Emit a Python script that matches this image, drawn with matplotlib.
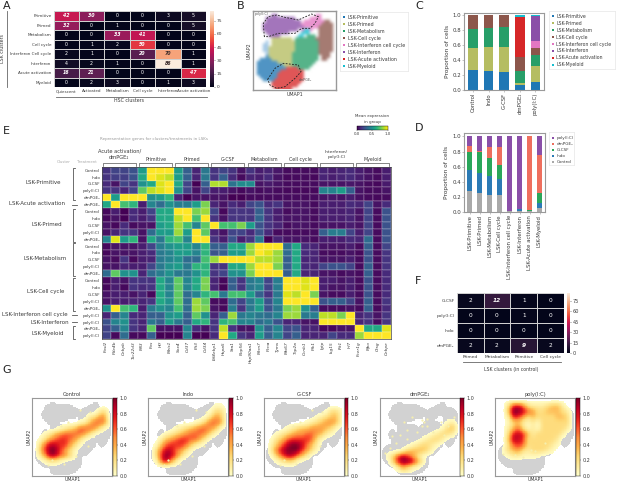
import numpy as np
import matplotlib
matplotlib.use("Agg")
import matplotlib.pyplot as plt
from matplotlib.lines import Line2D
from matplotlib.colors import ListedColormap, to_rgb
import seaborn as sns

W, H = 617, 482
plt.rcParams['font.family'] = ['DejaVu Sans']
fig = plt.figure(figsize=(W/100, H/100), dpi=100, facecolor='white')
TXT = '#3a3a3a'; SP = '#9a9a9a'

# ---------- data ----------
hsc_clusters = ['Quiescent', 'Activated', 'Metabolism', 'Cell cycle', 'Interferon', 'Acute activation']
lsk_rows_a = ['Primitive', 'Primed', 'Metabolism', 'Cell cycle', 'Interferon Cell cycle', 'Interferon', 'Acute activation', 'Myeloid']
overlap_a = [[42, 30, 0, 0, 3, 5],
             [32, 0, 1, 0, 0, 5],
             [0, 0, 33, 41, 0, 0],
             [0, 1, 2, 50, 0, 0],
             [2, 1, 0, 20, 70, 1],
             [4, 2, 1, 0, 86, 1],
             [16, 21, 0, 0, 0, 47],
             [0, 2, 3, 0, 1, 3]]

f_rows = ['G-CSF', 'poly(I:C)', 'Indo', 'dmPGE₂']
f_cols = ['Primed', 'Metabolism', 'Primitive', 'Cell cycle']
overlap_f = [[2, 12, 1, 0], [0, 0, 1, 0], [0, 0, 0, 0], [2, 2, 9, 2]]

lsk_names = ['LSK-Primitive', 'LSK-Primed', 'LSK-Metabolism', 'LSK-Cell cycle',
             'LSK-Interferon cell cycle', 'LSK-Interferon', 'LSK-Acute activation', 'LSK-Myeloid']
lsk_colors = ['#1f77b4', '#b5bd61', '#279e68', '#8c564b', '#e377c2', '#8a4fa8', '#d62728', '#17becf']

c_treatments = ['Control', 'Indo', 'G-CSF', 'dmPGE₂', 'poly(I:C)']
c_primitive = [.27, .26, .24, .07, .11]
c_primed = [.29, .31, .33, .02, .21]
c_metabolism = [.26, .26, .27, .16, .15]
c_cellcycle = [.18, .17, .16, .19, .09]
c_ifn_cc = [0, 0, 0, 0, .09]
c_ifn = [0, 0, 0, 0, .34]
c_acute = [0, 0, 0, .53, 0]
c_myeloid = [0, 0, 0, .03, .01]

d_control = [.28, .25, .23, .22, .01, .01, .01, .05]
d_indo = [.27, .27, .24, .21, 0, .03, 0, .07]
d_gcsf = [.25, .28, .24, .19, 0, 0, .02, .13]
d_dmpge = [.07, .01, .15, .24, 0, 0, .97, .51]
d_poly = [.13, .19, .14, .14, .99, .96, 0, .24]
d_names = ['poly(I:C)', 'dmPGE₂', 'G-CSF', 'Indo', 'Control']
d_colors = ['#8a4fa8', '#ee6f5e', '#2aa65a', '#2b7ab5', '#a9a9a9']

genes = ['Fosl2', 'Pde4b', 'Cebpb', 'Tsc22d3', 'Mll3', 'Fos', 'Hlf', 'Meis1',
         'Sox4', 'Cd37', 'Flt3', 'Cd34', 'Eif4ebp1', 'Hspa5', 'Sra1', 'Nop56',
         'Hsp90aa1', 'Mcm7', 'Pcna', 'Tyms', 'Mki67', 'Top2a', 'Ccnb1', 'Plk1',
         'Igtp', 'Isg15', 'Ifit1', 'Irf7', 'Fcer1g', 'Mpo', 'Ctsg', 'Cebpe']
gene_groups = ['Acute activation/\ndmPGE₂', 'Primitive', 'Primed', 'G-CSF', 'Metabolism', 'Cell cycle', 'Interferon/\npoly(I:C)', 'Myeloid']
treat_rows = ['Control', 'Indo', 'G-CSF', 'poly(I:C)', 'dmPGE₂', 'dmPGE₂',
              'Control', 'Indo', 'G-CSF', 'poly(I:C)', 'dmPGE₂',
              'Control', 'Indo', 'G-CSF', 'poly(I:C)', 'dmPGE₂',
              'Control', 'Indo', 'G-CSF', 'poly(I:C)', 'dmPGE₂',
              'poly(I:C)', 'poly(I:C)', 'dmPGE₂', 'poly(I:C)']
expr = [
 [.15,.2,.2,.25, .55,1,1,1, .55,.3,.1,.4, .15,.2,.15,.05, .15,.08,.1,.06, .03,.03,.03,.03, .1,.08,.1,.12, .08,.05,.03,.08],
 [.15,.18,.18,.25, .6,1,.95,.9, .55,.3,.1,.4, .15,.3,.12,.03, .1,.08,.12,.05, .02,.03,.03,.02, .1,.08,.1,.12, .08,.05,.03,.08],
 [.12,.05,.2,.15, .5,.6,.95,1, .6,.2,0,.3, .88,.88,.38,.48, .48,.05,.07,.05, .03,.03,.03,.03, .05,.05,.05,.06, .05,.03,.02,.07],
 [.15,.15,.1,.2, .75,.9,.95,1, .5,.2,.05,.2, .08,.08,.05,.02, .05,.03,.04,.03, .02,.02,.02,.02, .45,.45,.55,.3, .05,.03,.03,.05],
 [1,.55,1,1, 1,.5,.55,.65, .1,0,.05,.05, .05,.05,0,0, .03,.03,.03,.03, .03,.03,.03,.03, .05,.06,.05,.08, .04,.03,.02,.03],
 [.6,1,.7,.65, .08,.45,.35,.5, .42,.42,.55,.8, .1,.05,.12,.08, .2,.25,.12,.15, .05,.05,.05,.03, .08,.08,.08,.12, .1,.2,.05,.12],
 [.02,.08,0,.12, .08,.2,.6,.6, 1,1,.8,.85, .2,.02,.15,.15, .15,.3,.15,.08, .03,.05,.05,.03, .08,.08,.08,.1, .05,.2,.03,.25],
 [.02,.05,0,.12, .08,.15,.6,.6, .9,1,.7,1, .15,.05,.15,.15, .15,.32,.15,.08, .05,.05,.05,.03, .08,.08,.08,.1, .05,.2,.03,.25],
 [.05,.02,.12,.03, .05,.05,.55,.6, .85,.7,.45,.75, 1,.7,.7,.8, .55,.25,.15,.1, .03,.05,.05,.03, .05,.05,.05,.08, .05,.2,.03,.25],
 [.05,.1,.15,.15, .05,.35,.55,.55, .85,.55,1,.75, .1,.05,.2,.2, .12,.25,.12,.03, .03,.03,.03,.03, .3,.42,.42,.2, .08,.2,.03,.25],
 [.45,.95,.55,.65, .05,.6,.4,.65, .7,.45,1,1, .15,.08,.25,.08, .15,.4,0,.1, .05,.05,.05,.03, .08,.08,.08,.12, .1,.35,.03,.25],
 [.02,.05,.05,.05, .08,.2,.42,.5, .55,.55,.45,.65, .3,.3,.6,.6, .85,1,1,1, .35,.6,.12,.1, .05,.05,.05,.08, .03,.3,.03,.2],
 [.02,.05,.05,.05, .08,.12,.4,.45, .55,.55,.45,.65, .25,.3,.55,.55, .85,1,.95,.85, .35,.6,.12,.1, .03,.03,.03,.05, .02,.25,.03,.15],
 [.05,.03,.15,.02, .08,.1,.4,.45, .5,.35,.35,.7, .85,1,1,1, 1,.9,.9,.85, .3,.6,.1,.1, .05,.05,.05,.08, .03,.25,.03,.15],
 [.05,.05,.1,.08, .08,.2,.4,.5, .55,.4,.65,.65, .15,.15,.6,.6, .85,1,1,.8, .3,.6,.12,.1, .2,.25,.25,.2, .03,.3,.03,.15],
 [.35,.75,.5,.5, .1,.35,.42,.5, .4,.4,.5,.65, .15,.2,.5,.5, .8,1,1,1, .3,.6,.1,.1, .05,.05,.03,.05, .03,.3,.03,.12],
 [.02,.08,.05,.15, .15,.15,.6,.45, .75,.45,.6,.8, .1,.02,.3,.15, .4,.45,.2,.42, 1,1,.95,1, .08,.08,.05,.08, .03,.25,.03,.12],
 [.02,.08,.02,.15, .12,.15,.6,.45, .75,.45,.6,.8, .1,.01,.3,.15, .4,.45,.2,.42, 1,1,.95,1, .08,.05,.05,.08, .03,.25,.03,.12],
 [.05,.08,.08,.05, .1,.02,.6,.45, .75,.35,.45,.65, .7,.4,.7,.7, .55,.3,.15,.4, .95,.9,1,.8, .05,.03,.03,.08, .03,.25,.03,.12],
 [.05,.08,.08,.1, .1,.15,.6,.5, .75,.35,.85,.75, .03,.03,.35,.2, .4,.55,.25,.45, 1,1,1,1, .25,.3,.3,.2, .05,.3,.03,.15],
 [.5,1,.7,.65, .08,.4,.5,.45, .7,.35,.85,.8, .05,.02,.42,.15, .4,.55,.25,.4, .8,.85,.5,.3, .03,.03,.03,.05, .03,.3,.03,.12],
 [.1,.3,.45,.12, .1,.3,.3,.5, .55,.3,.75,.5, .1,.3,.85,.4, .45,.4,.35,.45, .85,.85,.4,.42, .9,.9,.8,1, .1,.15,.05,.15],
 [.25,.45,.5,.15, .1,.4,.3,.55, .4,.3,.6,.65, .15,.65,.7,.45, .45,.35,.4,.25, .1,.1,.05,.05, 1,1,1,1, .1,.15,.03,.15],
 [.2,.3,.45,.15, .1,.75,.05,.05, .05,.45,.12,.05, .15,.9,.15,.05, .05,.5,.3,.45, .2,.25,.1,.1, .02,.02,.05,.05, 1,.6,.6,.95],
 [.2,.02,.35,.02, .02,.3,0,0, 0,.45,0,0, .12,1,.6,.15, .1,.55,.3,.45, .2,.3,.1,.1, .1,.2,.12,.12, .85,1,1,1],
]

# cluster map of the UMAP (one letter per grid cell)
umap_grid = [
 "............................",
 "......II.............PP.....",
 "....IIIIIIIIII.....PPPP.....",
 "....IIIIIIIIIIII.PPPPPPPCC..",
 "...IIIIIIIIIIIIIPPPPPPPCCCC.",
 "...IIIIIIIIIIIIIIPPPPPCCCCC.",
 "...IIIIIIIIIIII.PYYP..CCCCC.",
 "....IIIIIIII....YYY...CCCCC.",
 ".....IIII......YY.MMM.CCCCC.",
 "......OOOOOOO.MMMMMMMCCCCCC.",
 "....b.OOOOOOOOMMMMMMMMCCCCC.",
 "...bb.OOOOOOOOMMMMMMMMCCCCC.",
 "...bbOOOOOOOOOMMMMMMMMCCCCC.",
 "...bbOOOOOOOOOMMMMMMMMCCCCC.",
 "....bOOOOOOOOMMMMMMMMMCCCC..",
 "....BOOOOOOOOMMMMMMMMM.CCC..",
 "..BBBBOOOOOOOMMMMMMMMM.CC...",
 ".BBBBBBBOOOOOMMMMMMMM.......",
 ".BBBBBBBBBOOOMMMMMMM........",
 ".BBBBBBBBBBRRRRMMMM.........",
 ".BBBBBBBBRRRRRRRR...........",
 ".BBBBBBBRRRRRRRRR...........",
 "..BBBBBBRRRRRRRRR...........",
 "...BBBBRRRRRRRRRR...........",
 "......RRRRRRRRRR............",
 "......RRRRRRRRR.............",
 ".......RRRRRR...............",
]
grid_letters = {'B': '#1f77b4', 'b': '#8fbce0', 'O': '#b5bd61', 'M': '#279e68', 'C': '#8c564b',
                'P': '#e377c2', 'I': '#8a4fa8', 'R': '#d62728', 'Y': '#17becf'}
poly_outline_x = [88, 85, 100, 125, 150, 190, 230, 250, 240, 225, 200, 180, 130, 100, 88]
poly_outline_y = [110, 70, 50, 45, 52, 60, 42, 50, 70, 85, 85, 100, 100, 110, 110]
dmpge_outline_x = [98, 120, 145, 190, 198, 180, 150, 125, 105, 98]
dmpge_outline_y = [238, 205, 190, 195, 215, 235, 260, 265, 255, 238]

# density per treatment: one digit (0..9) per grid cell
dens_control = ["0000000000000000","0000000000000000","0000000000000230","0000000000023550",
 "0000000001246651","0000012346665310","0012456666531000","0135677653100000",
 "0368877531000000","0479975310000000","0258865310000000","0012210000000000",
 "0000000000000000","0000000000000000"]
dens_indo = ["0000000000000000","0000000000000110","0000000000001331","0000000000013541",
 "0000000001246651","0000012345665410","0001234566653100","0024567766420000",
 "0146777642100000","0368865310000000","0379863100000000","0168520000000000",
 "0000000000000000","0000000000000000"]
dens_gcsf = ["0000000000000000","0000000000000000","0000000000001331","0000000000123441",
 "0000000012345541","0000123445554310","0012345566542100","0134677776310000",
 "0246899864200000","0368999753100000","0146886420000000","0012331000000000",
 "0000000000000000","0000000000000000"]
dens_dmpge = ["0000000000000000","0000000000000000","0000000000000000","0000000000000000",
 "0000000000000120","0000000000001341","0000000000123320","0000000012332000",
 "0000001233210000","0000134443100000","0136875310000000","0037998520000000",
 "0002542100000000","0000110000000000"]
dens_poly = ["0000000000000000","0037863222344200","0049986533444320","0027753433334430",
 "0013421213333330","0024631213333320","0037874233333200","0048873333332000",
 "0036763333321000","0134532333210000","0012211110000000","0000000000000000",
 "0000000000000000","0000000000000000"]
g_titles = ['Control', 'Indo', 'G-CSF', 'dmPGE₂', 'poly(I:C)']
speck_shared_x = [.25, .20, .40, .55, .70, .60, .45, .36, .72]
speck_shared_y = [.80, .86, .84, .74, .62, .15, .30, .36, .18]
speck_dmpge_x = [.55, .53, .59, .47, .34, .26, .20, .76, .93, .85, .66, .13, .07, .59, .53, .30, .34, .15, .41, .80]
speck_dmpge_y = [.30, .36, .26, .43, .52, .47, .58, .30, .24, .36, .43, .64, .71, .36, .28, .30, .41, .49, .24, .47]
speck_poly_x = [.10, .25, .35, .50, .45, .62]
speck_poly_y = [.72, .73, .75, .68, .66, .58]

# ---------- helpers ----------
def axpx(x0, y0, x1, y1):
    return fig.add_axes([x0/W, 1-y1/H, (x1-x0)/W, (y1-y0)/H])
def tpx(x, y, s, size=3.2, ha='center', va='center', color=TXT, **kw):
    return fig.text(x/W, 1-y/H, s, fontsize=size, ha=ha, va=va, color=color, **kw)
def lpx(xs, ys, color='#666666', lw=0.6, **kw):
    fig.add_artist(Line2D(np.array(xs)/W, 1-np.array(ys)/H, color=color, lw=lw,
                          transform=fig.transFigure, **kw))
def style(ax, c=SP, lw=0.8):
    for s in ax.spines.values():
        s.set_color(c); s.set_linewidth(lw)
def upsample(a, f):
    """Bilinear resize of a grid for display, then a small box blur."""
    ny, nx = a.shape
    yi = np.linspace(0, ny-1, (ny-1)*f+1); xi = np.linspace(0, nx-1, (nx-1)*f+1)
    t = np.array([np.interp(xi, np.arange(nx), row) for row in a])
    out = np.array([np.interp(yi, np.arange(ny), col) for col in t.T]).T
    k = np.ones(f+1)/(f+1)
    out = np.pad(out, f, mode='edge')
    out = np.apply_along_axis(lambda v: np.convolve(v, k, mode='same'), 0, out)
    out = np.apply_along_axis(lambda v: np.convolve(v, k, mode='same'), 1, out)
    return out[f:-f, f:-f]

rocket = sns.color_palette('rocket', as_cmap=True)

def count_heat(box, cbox, vals, rows, cols, rsize, csize, vsize, ticks_size):
    ax = axpx(*box)
    a = np.array(vals)
    ax.pcolormesh(a, cmap=rocket, vmin=0, vmax=86, edgecolors='#cfcfcf', linewidth=0.45)
    ax.invert_yaxis()
    for i in range(a.shape[0]):
        for j in range(a.shape[1]):
            v = a[i, j]
            big = v >= 9
            ax.text(j+.5, i+.5, str(v), ha='center', va='center', fontsize=vsize,
                    color='#3a2a2a' if v > 60 else 'white',
                    fontweight='bold' if big else 'normal', style='italic' if big else 'normal')
    ax.set_xticks(np.arange(len(cols))+.5); ax.set_xticklabels(cols, fontsize=csize, color=TXT)
    ax.set_yticks(np.arange(len(rows))+.5); ax.set_yticklabels(rows, fontsize=rsize, color=TXT)
    ax.tick_params(length=0, pad=1.5)
    for s in ax.spines.values():
        s.set_visible(False)
    cax = axpx(*cbox)
    sm = plt.cm.ScalarMappable(cmap=rocket, norm=plt.Normalize(0, 86))
    cb = fig.colorbar(sm, cax=cax, ticks=[0, 15, 30, 45, 60, 75])
    cb.ax.tick_params(labelsize=ticks_size, length=1, width=.4, pad=1, colors=TXT)
    cb.outline.set_visible(False)
    return ax

PANEL = dict(size=8, ha='left', color='#222222')

# ---------- A ----------
tpx(3, 6, 'A', **PANEL)
count_heat((53.5, 11, 206, 87), (210, 11, 214, 87), overlap_a, lsk_rows_a, hsc_clusters, 3.0, 2.95, 3.4, 3.2)
lpx([56, 207], [96.5, 96.5]); lpx([7, 7], [11, 87])
tpx(129, 101, 'HSC clusters', size=3.4)
tpx(2.5, 49, 'LSK clusters', size=3.4, rotation=90)

# ---------- B ----------
tpx(237, 6, 'B', **PANEL)
axb = axpx(253.3, 11, 335.7, 90)
nr = len(umap_grid)
alpha_g = np.zeros((nr, 28)); rgb_g = np.zeros((nr, 28, 3))
for r, row in enumerate(umap_grid):
    for c, ch in enumerate(row):
        if ch in grid_letters:
            alpha_g[r, c] = 0.78
            rgb_g[r, c] = np.array(to_rgb(grid_letters[ch]))*0.78
fine_a = upsample(alpha_g, 4)
fine_rgb = np.dstack([upsample(rgb_g[..., i], 4) for i in range(3)])
img = np.clip(fine_rgb + (1-fine_a)[..., None], 0, 1)   # composited on white
axb.imshow(img, extent=(59.4, 297, 266, 37.4), aspect='auto', interpolation='bilinear')
axb.plot(poly_outline_x, poly_outline_y, ls=(0, (2.2, 1.6)), color='#222222', lw=0.6)
axb.plot(dmpge_outline_x, dmpge_outline_y, ls=(0, (2.2, 1.6)), color='#222222', lw=0.6)
axb.set_xlim(55, 302); axb.set_ylim(270, 33)
axb.set_xticks([]); axb.set_yticks([])
axb.text(60, 42, 'poly(I:C)', fontsize=2.4, color='#555555', va='center')
axb.text(192, 240, 'dmPGE₂', fontsize=2.4, color='#555555', va='center')
style(axb, '#999999', 1.0)
tpx(294.5, 94.5, 'UMAP1', size=3.4); tpx(249.5, 51, 'UMAP2', size=3.4, rotation=90)

def lsk_legend(x0, y0, x1, y1, names, colors, size, step):
    lax = axpx(x0, y0, x1, y1)
    lax.set_xlim(x0, x1); lax.set_ylim(y1, y0)
    lax.set_xticks([]); lax.set_yticks([]); style(lax, '#e6e6e6', 0.5)
    for i, (n, c) in enumerate(zip(names, colors)):
        yy = y0 + 5.5 + step*i
        lax.scatter([x0+4], [yy], s=3.2, color=c, marker='s', linewidths=0)
        lax.text(x0+7.5, yy, n, fontsize=size, color=TXT, va='center', ha='left')
lsk_legend(340, 11.7, 408, 71, lsk_names, lsk_colors, 3.45, 7.0)

# ---------- C ----------
tpx(415, 6, 'C', **PANEL)
axc = axpx(464.3, 13.3, 544, 90)
x = np.arange(5); bottom = np.zeros(5)
for vals, col in zip([c_primitive, c_primed, c_metabolism, c_cellcycle, c_ifn_cc, c_ifn, c_acute, c_myeloid], lsk_colors):
    axc.bar(x, vals, 0.62, bottom=bottom, color=col)
    bottom += np.array(vals)
axc.set_xlim(-.55, 4.55); axc.set_ylim(0, 1.023)
axc.set_xticks(x); axc.set_xticklabels(c_treatments, rotation=90, fontsize=3.9, color=TXT)
axc.set_yticks([0, .2, .4, .6, .8, 1.0]); axc.tick_params(axis='y', labelsize=3.9, labelcolor=TXT)
axc.tick_params(length=1.2, width=.4, pad=1, color=SP)
axc.set_ylabel('Proportion of cells', fontsize=4.2, color=TXT, labelpad=2)
style(axc)
lsk_legend(549, 11, 615, 69, lsk_names, lsk_colors, 3.35, 6.9)

# ---------- D ----------
tpx(415, 128, 'D', **PANEL)
axd = axpx(464, 133, 545, 212)
x = np.arange(8); bottom = np.zeros(8)
for vals, col in zip([d_control, d_indo, d_gcsf, d_dmpge, d_poly], d_colors[::-1]):
    axd.bar(x, vals, 0.58, bottom=bottom, color=col)
    bottom += np.array(vals)
axd.set_xlim(-.55, 7.55); axd.set_ylim(0, 1.045)
axd.set_xticks(x); axd.set_xticklabels(lsk_names, rotation=90, fontsize=3.9, color=TXT)
axd.set_yticks([0, .2, .4, .6, .8, 1.0]); axd.tick_params(axis='y', labelsize=3.9, labelcolor=TXT)
axd.tick_params(length=1.2, width=.4, pad=1, color=SP)
axd.set_ylabel('Proportion of cells', fontsize=4.2, color=TXT, labelpad=2)
style(axd)
lsk_legend(549, 132, 574, 165, d_names, d_colors, 3.0, 6.2)

# ---------- E ----------
tpx(3, 131, 'E', **PANEL)
HX0, HX1, HY0, HY1 = 101.7, 391, 166.7, 339.3
axe = axpx(HX0, HY0, HX1, HY1)
axe.pcolormesh(np.array(expr), cmap='viridis', vmin=0, vmax=1, edgecolors=(1, 1, 1, .12), linewidth=0.25)
axe.invert_yaxis()
axe.set_xticks(np.arange(32)+.5); axe.set_xticklabels(genes, rotation=90, fontsize=3.1, style='italic', color=TXT)
axe.set_yticks(np.arange(25)+.5); axe.set_yticklabels(treat_rows, fontsize=3.0, color=TXT)
axe.tick_params(length=0, pad=1.2)
style(axe, '#444444', 0.5)
cw = (HX1-HX0)/32; rh = (HY1-HY0)/25
for g, name in enumerate(gene_groups):
    xa = HX0 + cw*4*g + 1.3; xb = HX0 + cw*4*(g+1) - 2
    lpx([xa, xa, xb, xb], [166, 163, 163, 166], color='#555555', lw=0.5)
    if g == 0:
        tpx((xa+xb)/2, 154.5, name, size=3.7, linespacing=1.3)
    elif '\n' in name:
        tpx((xa+xb)/2, 154.5, name, size=3.2, linespacing=1.3)
    else:
        tpx((xa+xb)/2, 159.5, name, size=3.4)
tpx(153.5, 139, 'Representative genes for clusters/treatments in LSKs', size=2.85, color='#999999')
tpx(63.5, 162, 'Cluster', size=2.8, color='#aaaaaa'); tpx(87, 162, 'Treatment', size=2.8, color='#aaaaaa')
cluster_labels = [('LSK-Primitive', 61, 182, 0, 5), ('LSK-Acute activation', 65, 203.5, 5, 6), ('LSK-Primed', 62, 224, 6, 11),
                  ('LSK-Metabolism', 67, 259, 11, 16), ('LSK-Cell cycle', 64, 292, 16, 21),
                  ('LSK-Interferon cell cycle', 68, 314.5, 21, 22), ('LSK-Interferon', 69, 322, 22, 23), ('LSK-Myeloid', 64, 333, 23, 25)]
for name, xr, yy, a, b in cluster_labels:
    tpx(xr, yy, name, size=3.95, ha='right')
    y0 = HY0 + rh*a + 0.8; y1 = HY0 + rh*b - 0.8
    if b - a == 1:
        lpx([72, 76.5], [(y0+y1)/2]*2, color='#555555', lw=0.6)
    else:
        lpx([75, 72.7, 72.7, 75], [y0, y0, y1, y1], color='#555555', lw=0.6)
tpx(372, 116.5, 'Mean expression', size=2.85); tpx(372, 122, 'in group', size=2.85)
cax = axpx(357, 125.7, 387.7, 130)
cb = fig.colorbar(plt.cm.ScalarMappable(cmap='viridis', norm=plt.Normalize(0, 1)), cax=cax,
                  orientation='horizontal', ticks=[0, .5, 1])
cb.ax.set_xticklabels(['0.0', '0.5', '1.0'])
cb.ax.tick_params(labelsize=2.9, length=1, width=.3, pad=.8, colors=TXT)
cb.outline.set_linewidth(.3)

# ---------- F ----------
tpx(415, 281, 'F', **PANEL)
count_heat((456.7, 293, 564, 353), (566.7, 293, 570, 353), overlap_f, f_rows, f_cols, 3.2, 3.2, 4.2, 3.6)
lpx([462.7, 561], [362, 362]); tpx(511, 369, 'LSK clusters (in control)', size=3.3)

# ---------- G ----------
tpx(2, 370, 'G', **PANEL)
mask = np.array([[ch != '.' for ch in row] for row in umap_grid], float)
mask_fine = np.ma.masked_less(upsample(mask, 4), 0.5)
dens_cmap = plt.cm.YlOrRd
g_lefts = [32.3, 148.3, 264, 379.7, 495.3]
specks = [(speck_shared_x, speck_shared_y)]*3 + [(speck_dmpge_x, speck_dmpge_y), (speck_poly_x, speck_poly_y)]
for left, title, dens, (sx, sy) in zip(g_lefts, g_titles, [dens_control, dens_indo, dens_gcsf, dens_dmpge, dens_poly], specks):
    ax = axpx(left, 398.3, left+80, 476)
    ax.imshow(mask_fine, extent=(0.5/28, 27.5/28, 26.5/27, 0.5/27), aspect='auto', interpolation='nearest',
              cmap=ListedColormap(['#d2d2d2']))
    ax.scatter(sx, sy, s=2.6, color='#f6efae', linewidths=0)
    d = np.array([[int(ch)/9 for ch in row] for row in dens])
    fine = np.ma.masked_less(upsample(d, 8)**1.35, 0.02)
    ax.imshow(fine, extent=(0.5/16, 15.5/16, 13.5/14, 0.5/14), aspect='auto', interpolation='nearest',
              cmap=dens_cmap, vmin=0, vmax=1.0)
    ax.set_xlim(0, 1); ax.set_ylim(1, 0)
    ax.set_xticks([]); ax.set_yticks([])
    style(ax, '#999999', 0.8)
    ax.set_title(title, fontsize=3.7, color=TXT, pad=1.5)
    cax = axpx(left+80.7, 398.3, left+84.2, 476)
    cb = fig.colorbar(plt.cm.ScalarMappable(cmap=dens_cmap, norm=plt.Normalize(0, 1)), cax=cax,
                      ticks=[0, .2, .4, .6, .8, 1])
    cb.ax.tick_params(labelsize=3.5, length=1, width=.3, pad=1, colors=TXT)
    cb.outline.set_linewidth(.3)
    tpx(left+40, 479.5, 'UMAP1', size=3.3)
    tpx(left-3.5, 437, 'UMAP2', size=3.3, rotation=90)

fig.savefig('out.png', dpi=100)
